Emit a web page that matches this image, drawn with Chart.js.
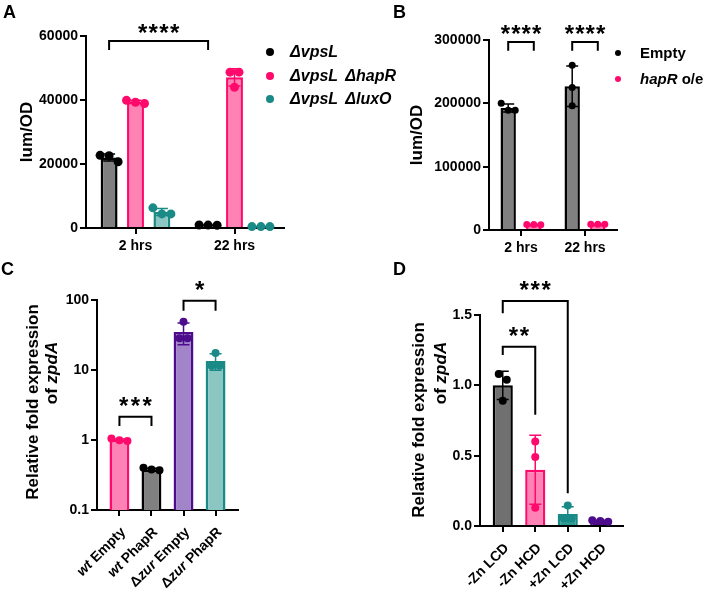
<!DOCTYPE html>
<html>
<head>
<meta charset="utf-8">
<title>zpdA expression</title>
<script src="https://cdn.jsdelivr.net/npm/chart.js@4.4.1/dist/chart.umd.min.js"></script>
<style>
  body { margin: 0; background: #fff; }
  #page { position: relative; width: 708px; height: 598px; overflow: hidden; font-family: "Liberation Sans", Arial, sans-serif; }
  canvas { position: absolute; }
  .letter { position: absolute; font-weight: bold; font-size: 18px; line-height: 18px; }
  .leg { position: absolute; height: 20px; line-height: 20px; font-weight: bold; font-size: 15px; white-space: nowrap; }
  .leg.wide { font-size: 16px; word-spacing: 3px; }
  .leg span { position: absolute; border-radius: 50%; }
</style>
</head>
<body>
<div id="page">
  <canvas id="chA" width="360" height="290" style="left:0;top:0"></canvas>
  <canvas id="chB" width="348" height="290" style="left:360px;top:0"></canvas>
  <canvas id="chC" width="360" height="328" style="left:0;top:270px"></canvas>
  <canvas id="chD" width="348" height="328" style="left:360px;top:270px"></canvas>
  <div class="letter" style="left:3px;top:3px">A</div>
  <div class="letter" style="left:393px;top:3px">B</div>
  <div class="letter" style="left:1px;top:260px">C</div>
  <div class="letter" style="left:393px;top:260px">D</div>
</div>
<script>
const FONT = '"Liberation Sans", Arial, sans-serif';
Chart.defaults.font.family = FONT;
Chart.defaults.color = '#000';

// panel A
const aCats = ['2 hrs', '22 hrs'];
const aNames = ['ΔvpsL', 'ΔvpsL ΔhapR', 'ΔvpsL ΔluxO'];
const aVpsL = [22000, 900];
const aVpsLSd = [1100, 60];
const aVpsLReps = [[22700, 22600, 20700], [950, 900, 850]];
const aHapR = [39400, 47100];
const aHapRSd = [500, 2700];
const aHapRReps = [[39900, 39300, 38900], [48700, 48700, 44000]];
const aLuxO = [5000, 450];
const aLuxOSd = [1100, 30];
const aLuxOReps = [[6300, 4400, 4400], [450, 450, 450]];
const aTicks = [0, 20000, 40000, 60000];
const aBrackets = [{from: [0, 0], to: [0, 1], y: 58400, legs: [55600, 55600], text: '****'}];

// panel B
const bCats = ['2 hrs', '22 hrs'];
const bNames = ['Empty', 'hapR o/e'];
const bEmpty = [192700, 227000];
const bEmptySd = [6300, 32000];
const bEmptyReps = [[200000, 189000, 189000], [260000, 225000, 196000]];
const bHapR = [8500, 9000];
const bHapRSd = [300, 300];
const bHapRReps = [[8500, 8600, 8400], [9000, 9100, 8900]];
const bTicks = [0, 100000, 200000, 300000];
const bBrackets = [
  {from: [0, 0], to: [1, 0], y: 297000, legs: [283000, 283000], text: '****'},
  {from: [0, 1], to: [1, 1], y: 297000, legs: [283000, 283000], text: '****'}
];

// panel C
const cCats = ['wt Empty', 'wt PhapR', 'Δzur Empty', 'Δzur PhapR'];
const cItalic = ['wt', 'wt', 'zur', 'zur'];
const cMean = [1.0, 0.38, 35, 13.5];
const cSd = [0.035, 0.015, 12, 3.6];
const cReps = [[1.05, 0.99, 0.97], [0.40, 0.38, 0.37], [49, 28.5, 28.5], [17.5, 11.5, 11.5]];
const cTicks = [0.1, 1, 10, 100];
const cBrackets = [
  {from: 0, to: 1, y: 2.15, legs: [1.58, 1.58], text: '***'},
  {from: 2, to: 3, y: 97.7, legs: [70, 70], text: '*'}
];

// panel D
const dCats = ['-Zn LCD', '-Zn HCD', '+Zn LCD', '+Zn HCD'];
const dMean = [1.0, 0.40, 0.085, 0.035];
const dSd = [0.1, 0.245, 0.052, 0.005];
const dReps = [[1.08, 1.04, 0.89], [0.60, 0.49, 0.13], [0.145, 0.055, 0.055], [0.04, 0.035, 0.03]];
const dTicks = [0, 0.5, 1.0, 1.5];
const dBrackets = [
  {from: 0, to: 1, y: 1.274, legs: [1.215, 0.79], text: '**'},
  {from: 0, to: 2, y: 1.6, legs: [1.512, 0.232], text: '***'}
];

const yTitleAB = 'lum/OD';
const yTitleCD = ['Relative fold expression', 'of zpdA'];
const yTitleItalic = ['', 'zpdA'];

const BLACK = '#000000', GREY = '#808080', DGREY = '#707070';
const PINK = '#ff0a6c', PINK_FILL = '#ff82b4';
const TEAL = '#1a8a86', TEAL_FILL = '#8cc6c2', TEAL_DARK = '#2e9a95';
const PURP = '#4c0c8c', PURP_FILL = '#a284c8';

function fontStr(italic, size) {
  return (italic ? 'italic ' : '') + 'bold ' + size + 'px ' + FONT;
}

function richParts(text, word) {
  const k = word ? text.indexOf(word) : -1;
  if (k < 0) return [[text, false]];
  return [[text.slice(0, k), false], [word, true], [text.slice(k + word.length), false]].filter(p => p[0]);
}

function drawRich(ctx, parts, x, y, align, size) {
  const w = parts.map(p => { ctx.font = fontStr(p[1], size); return ctx.measureText(p[0]).width; });
  const total = w.reduce((a, b) => a + b, 0);
  let cx = align == 'right' ? x - total : align == 'center' ? x - total / 2 : x;
  ctx.textAlign = 'left';
  parts.forEach((p, i) => { ctx.font = fontStr(p[1], size); ctx.fillText(p[0], cx, y); cx += w[i]; });
}

function pick(v, i) {
  return Array.isArray(v) ? v[i] : v;
}

// error bars, replicate dots, significance brackets and styled labels
function extrasPlugin(o) {
  return {
    id: 'extras',
    afterDatasetsDraw(chart) {
      const ctx = chart.ctx, ys = chart.scales.y;
      ctx.save();
      chart.data.datasets.forEach((ds, d) => {
        chart.getDatasetMeta(d).data.forEach((bar, i) => {
          const m = ds.data[i], s = ds.sd[i];
          const top = ys.getPixelForValue(m + s), bot = ys.getPixelForValue(m - s);
          ctx.strokeStyle = pick(ds.borderColor, i);
          ctx.lineWidth = 1.5;
          ctx.beginPath();
          ctx.moveTo(bar.x, top); ctx.lineTo(bar.x, bot);
          ctx.moveTo(bar.x - o.cap, top); ctx.lineTo(bar.x + o.cap, top);
          ctx.moveTo(bar.x - o.cap, bot); ctx.lineTo(bar.x + o.cap, bot);
          ctx.stroke();
          // points that would overlap go side by side
          const rows = [];
          ds.reps[i].map(v => ys.getPixelForValue(v)).sort((a, b) => a - b).forEach(p => {
            const row = rows.find(r => Math.abs(r[0] - p) < 2 * o.r);
            if (row) row.push(p); else rows.push([p]);
          });
          ctx.fillStyle = pick(ds.dot, i);
          rows.forEach(row => row.forEach((p, k) => {
            ctx.beginPath();
            ctx.arc(bar.x + (k - (row.length - 1) / 2) * 2 * o.r, p, o.r, 0, Math.PI * 2);
            ctx.fill();
          }));
        });
      });
      ctx.restore();
    },
    afterDraw(chart) {
      const ctx = chart.ctx, ys = chart.scales.y, xs = chart.scales.x;
      ctx.save();
      ctx.fillStyle = '#000';
      ctx.strokeStyle = '#000';
      ctx.lineWidth = 2;
      const px = ref => Array.isArray(ref) ? chart.getDatasetMeta(ref[0]).data[ref[1]].x : chart.getDatasetMeta(0).data[ref].x;
      o.brackets.forEach(b => {
        const x1 = px(b.from), x2 = px(b.to), y0 = ys.getPixelForValue(b.y);
        ctx.beginPath();
        ctx.moveTo(x1, ys.getPixelForValue(b.legs[0]));
        ctx.lineTo(x1, y0);
        ctx.lineTo(x2, y0);
        ctx.lineTo(x2, ys.getPixelForValue(b.legs[1]));
        ctx.stroke();
        ctx.font = 'bold ' + o.starSize + 'px ' + FONT;
        ctx.textAlign = 'center';
        ctx.textBaseline = 'alphabetic';
        const mt = ctx.measureText('*');
        const base = y0 - o.starGap + (mt.actualBoundingBoxAscent - mt.actualBoundingBoxDescent) / 2;
        const n = b.text.length;
        for (let k = 0; k < n; k++) {
          ctx.fillText(b.text[k], (x1 + x2) / 2 + (k - (n - 1) / 2) * o.starStep, base);
        }
      });
      if (o.richTicks) {
        ctx.textBaseline = 'middle';
        chart.data.labels.forEach((lab, i) => {
          ctx.save();
          ctx.translate(xs.getPixelForTick(i) + o.richTicks.dx, xs.top + o.richTicks.dy);
          ctx.rotate(-Math.PI / 4);
          drawRich(ctx, richParts(lab, o.richTicks.italic[i]), 0, 0, 'right', 14);
          ctx.restore();
        });
      }
      (o.titles || []).forEach(t => {
        ctx.save();
        ctx.translate(t.x, t.y);
        ctx.rotate(-Math.PI / 2);
        ctx.textBaseline = 'middle';
        drawRich(ctx, richParts(t.text, t.italic), 0, 0, 'center', 17);
        ctx.restore();
      });
      ctx.restore();
    }
  };
}

function barSet(label, data, sd, reps, fill, line, dot, catPct, barPct) {
  return {
    label: label, data: data, sd: sd, reps: reps, dot: dot,
    backgroundColor: fill, borderColor: line, borderWidth: 2.5, borderSkipped: 'start',
    categoryPercentage: catPct, barPercentage: barPct
  };
}

function panel(id, labels, datasets, y, pad, xHeight, extra, spread) {
  const x = {
    grid: {drawOnChartArea: false, offset: false, tickLength: 6, lineWidth: 2, color: '#000'},
    border: {color: '#000', width: 2},
    ticks: {display: !extra.richTicks, padding: 4, maxRotation: 0, font: {size: 14, weight: 'bold'}},
    afterFit: s => { s.height = xHeight; }
  };
  if (spread) {
    // a little extra room either side of the outer categories
    x.afterBuildTicks = s => { s._startValue -= spread; s._valueRange += 2 * spread; };
  }
  y.grid = {drawOnChartArea: false, tickLength: 6, lineWidth: 2, color: '#000'};
  y.border = {color: '#000', width: 2};
  y.ticks = Object.assign({padding: 2, font: {size: 14, weight: 'bold'}}, y.ticks);
  return new Chart(document.getElementById(id), {
    type: 'bar',
    data: {labels: labels, datasets: datasets},
    options: {
      responsive: false,
      animation: false,
      events: [],
      layout: {padding: pad},
      plugins: {legend: {display: false}, tooltip: {enabled: false}},
      scales: {x: x, y: y}
    },
    plugins: [extrasPlugin(extra)]
  });
}

panel('chA', aCats, [
  barSet(aNames[0], aVpsL, aVpsLSd, aVpsLReps, GREY, BLACK, BLACK, 0.8, 0.64),
  barSet(aNames[1], aHapR, aHapRSd, aHapRReps, PINK_FILL, PINK, PINK, 0.8, 0.64),
  barSet(aNames[2], aLuxO, aLuxOSd, aLuxOReps, TEAL_FILL, TEAL, TEAL, 0.8, 0.64)
], {
  min: 0, max: 60000,
  afterBuildTicks: s => { s.ticks = aTicks.map(v => ({value: v})); },
  afterFit: s => { s.width = 86; },
  ticks: {callback: v => String(v)},
  title: {display: true, text: yTitleAB, font: {size: 17, weight: 'bold'}, padding: {top: 17, bottom: 0}}
}, {left: 0, right: 76, top: 36, bottom: 0}, 62,
  {r: 4.5, cap: 6, starSize: 24, starStep: 10.7, starGap: 12.5, brackets: aBrackets});

panel('chB', bCats, [
  barSet(bNames[0], bEmpty, bEmptySd, bEmptyReps, GREY, BLACK, BLACK, 0.8, 0.6),
  barSet(bNames[1], bHapR, bHapRSd, bHapRReps, PINK_FILL, PINK, PINK, 0.8, 0.6)
], {
  min: 0, max: 300000,
  afterBuildTicks: s => { s.ticks = bTicks.map(v => ({value: v})); },
  afterFit: s => { s.width = 129; },
  ticks: {callback: v => String(v)},
  title: {display: true, text: yTitleAB, font: {size: 17, weight: 'bold'}, padding: {top: 47, bottom: 0}}
}, {left: 0, right: 91, top: 40, bottom: 0}, 60,
  {r: 3.5, cap: 6, starSize: 24, starStep: 10.4, starGap: 12, brackets: bBrackets});

panel('chC', cCats, [
  barSet('zpdA', cMean, cSd, cReps,
    [PINK_FILL, GREY, PURP_FILL, TEAL_FILL], [PINK, BLACK, PURP, TEAL], [PINK, BLACK, PURP, TEAL], 1, 0.62)
], {
  type: 'logarithmic', min: 0.1, max: 100,
  afterBuildTicks: s => { s.ticks = cTicks.map(v => ({value: v})); },
  afterFit: s => { s.width = 97; },
  ticks: {callback: v => String(v)}
}, {left: 0, right: 122, top: 30, bottom: 0}, 88,
  {r: 4, cap: 6, starSize: 24, starStep: 11.7, starGap: 15, brackets: cBrackets,
   richTicks: {italic: cItalic, dx: 4, dy: 20},
   titles: [
     {text: yTitleCD[0], italic: yTitleItalic[0], x: 33, y: 132},
     {text: yTitleCD[1], italic: yTitleItalic[1], x: 52, y: 103}
   ]}, 0.2);

panel('chD', dCats, [
  barSet('zpdA', dMean, dSd, dReps,
    [DGREY, PINK_FILL, TEAL_DARK, PURP], [BLACK, PINK, TEAL, PURP], [BLACK, PINK, TEAL, PURP], 1, 0.62)
], {
  min: 0, max: 1.5,
  afterBuildTicks: s => { s.ticks = dTicks.map(v => ({value: v})); },
  afterFit: s => { s.width = 120; },
  ticks: {callback: v => v.toFixed(1)}
}, {left: 0, right: 85, top: 45, bottom: 0}, 72,
  {r: 4, cap: 6, starSize: 24, starStep: 11, starGap: 15, brackets: dBrackets,
   richTicks: {italic: [], dx: 4, dy: 20},
   titles: [
     {text: yTitleCD[0], italic: yTitleItalic[0], x: 59, y: 150},
     {text: yTitleCD[1], italic: yTitleItalic[1], x: 81, y: 103}
   ]}, 0.2);

// legends (mixed italic text, so plain html)
const page = document.getElementById('page');
function legend(left, dotX, top, step, size, names, colors, italics, cls) {
  names.forEach((n, k) => {
    const row = document.createElement('div');
    row.className = 'leg' + (cls ? ' ' + cls : '');
    row.style.left = left + 'px';
    row.style.top = (top + k * step - 10) + 'px';
    row.innerHTML = richParts(n, italics[k]).map(p => p[1] ? '<i>' + p[0] + '</i>' : p[0]).join('');
    const dot = document.createElement('span');
    dot.style.cssText = 'left:' + (dotX - left - size / 2) + 'px;top:' + (10 - size / 2) + 'px;width:' +
      size + 'px;height:' + size + 'px;background:' + colors[k];
    row.appendChild(dot);
    page.appendChild(row);
  });
}
legend(290, 270, 51.7, 23.8, 8, aNames, [BLACK, PINK, TEAL], aNames, 'wide');
legend(640, 618, 53, 26, 6, bNames, [BLACK, PINK], ['', 'hapR']);
</script>
</body>
</html>
